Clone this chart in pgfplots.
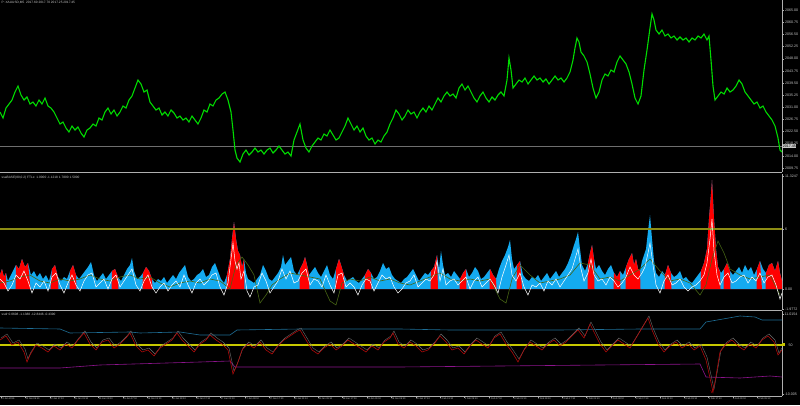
\documentclass[border=0pt]{standalone}
\usepackage{fontspec}
\setmainfont{Liberation Sans}
\usepackage{pgfplots}
\pgfplotsset{compat=1.18}
\definecolor{pricegreen}{RGB}{0,220,0}
\definecolor{histblue}{RGB}{20,170,240}
\definecolor{histred}{RGB}{255,0,0}
\definecolor{olivedk}{RGB}{70,100,20}
\definecolor{levelol}{RGB}{140,140,20}
\definecolor{lvlyellow}{RGB}{200,200,0}
\definecolor{steelbl}{RGB}{30,110,150}
\definecolor{magent}{RGB}{140,20,140}
\definecolor{darkred}{RGB}{175,10,10}
\definecolor{sepgray}{RGB}{175,175,175}
\definecolor{txtgray}{RGB}{200,200,200}
\definecolor{pricegray}{RGB}{110,110,110}
\pgfplotsset{
  mt4/.style={
    scale only axis, width=782pt, xmin=0, xmax=782,
    axis x line*=bottom, axis y line*=right,
    axis line style={-, sepgray, line width=0.8pt},
    tick style={sepgray, line width=0.4pt},
    tick align=outside, major tick length=2pt,
    yticklabel style={font=\fontsize{3.6}{4}\selectfont, text=txtgray, inner xsep=1pt},
    clip mode=individual,
  }
}
\begin{document}
\begin{tikzpicture}
\fill[black] (0,0) rectangle (800pt,405pt);
% ---------------- price panel ----------------
\begin{axis}[mt4, at={(0pt,232.5pt)}, anchor=south west, height=172.5pt,
  ymin=2008.18, ymax=2068.55, xtick=\empty,
  ytick={2009.75,2014.00,2018.25,2022.50,2026.75,2031.00,2035.25,2039.50,2043.75,2048.00,2052.25,2056.50,2060.75,2065.00},
  yticklabels={2009.75,2014.00,2018.25,2022.50,2026.75,2031.00,2035.25,2039.50,2043.75,2048.00,2052.25,2056.50,2060.75,2065.00}]
\addplot[draw=pricegray, line width=0.5pt] coordinates {(0,2017.45)(782,2017.45)};
\addplot[draw=pricegreen, line width=1.1pt] coordinates {
(0,2029.35)(3,2027.25)(6,2030.75)(9,2032.15)(12,2033.55)(15,2036.35)(18,2038.45)(21,2035.30)(24,2033.55)(27,2034.60)
(30,2032.15)(33,2032.85)(36,2031.45)(39,2033.55)(42,2032.15)(45,2034.25)(48,2031.45)(51,2030.75)(54,2029.35)(57,2027.25)
(60,2025.15)(63,2025.85)(66,2023.75)(69,2022.35)(72,2024.45)(75,2023.05)(78,2024.10)(81,2022.00)(84,2020.60)(87,2023.05)
(90,2023.75)(93,2025.15)(96,2024.45)(99,2027.25)(102,2026.55)(105,2029.35)(108,2030.75)(111,2028.65)(114,2030.05)(117,2027.95)
(120,2029.35)(123,2031.45)(126,2030.75)(129,2033.55)(132,2034.95)(135,2037.75)(138,2040.55)(141,2039.15)(144,2036.35)(147,2037.05)
(150,2032.85)(153,2031.45)(156,2030.05)(159,2030.75)(162,2028.30)(165,2029.35)(168,2027.95)(171,2030.05)(174,2029.00)(177,2027.25)
(180,2027.95)(183,2026.55)(186,2027.25)(189,2025.85)(192,2027.95)(195,2026.55)(198,2025.15)(201,2027.25)(204,2030.05)(207,2029.35)
(210,2032.15)(213,2031.45)(216,2033.55)(219,2034.25)(222,2035.65)(225,2036.35)(228,2033.55)(231,2029.35)(233,2023.05)(235,2016.05)
(237,2013.25)(240,2011.85)(243,2014.65)(246,2016.05)(249,2014.30)(252,2015.35)(255,2016.75)(258,2015.35)(261,2016.05)(264,2014.65)
(267,2016.05)(270,2016.75)(273,2015.00)(276,2016.05)(279,2017.45)(282,2016.05)(285,2014.65)(288,2015.35)(291,2013.95)(294,2019.55)
(297,2022.35)(300,2025.15)(303,2019.55)(306,2016.75)(309,2015.35)(312,2017.45)(315,2018.85)(318,2020.25)(321,2019.55)(324,2021.65)
(327,2020.95)(330,2023.05)(333,2021.30)(336,2019.55)(339,2020.25)(342,2022.35)(345,2024.45)(348,2027.25)(351,2025.15)(354,2023.05)
(357,2024.45)(360,2022.35)(363,2023.75)(366,2020.95)(369,2019.55)(372,2020.25)(375,2018.15)(378,2019.55)(381,2018.85)(384,2020.95)
(387,2022.35)(390,2025.15)(393,2027.25)(396,2030.05)(399,2028.65)(402,2026.55)(405,2027.95)(408,2030.05)(411,2028.65)(414,2029.35)
(417,2027.25)(420,2029.35)(423,2030.75)(426,2029.35)(429,2031.45)(432,2030.05)(435,2032.15)(438,2034.25)(441,2032.85)(444,2034.95)
(447,2036.35)(450,2034.95)(453,2035.65)(456,2034.25)(459,2037.75)(462,2039.15)(465,2037.05)(468,2038.45)(471,2036.35)(474,2034.25)
(477,2032.85)(480,2034.95)(483,2036.35)(486,2034.25)(489,2032.85)(492,2034.60)(495,2033.55)(498,2035.30)(501,2036.35)(504,2034.95)
(507,2040.55)(509,2048.25)(511,2044.05)(513,2037.75)(516,2039.15)(519,2040.55)(522,2039.85)(525,2041.25)(528,2039.15)(531,2040.55)
(534,2041.95)(537,2040.55)(540,2041.25)(543,2039.85)(546,2040.90)(549,2039.15)(552,2040.55)(555,2041.95)(558,2040.55)(561,2041.25)
(564,2039.85)(567,2041.25)(570,2043.35)(573,2047.55)(575,2051.75)(577,2055.25)(579,2053.85)(581,2050.35)(584,2048.95)(587,2046.85)
(590,2042.65)(593,2037.75)(596,2034.25)(599,2036.35)(602,2040.55)(605,2042.65)(608,2041.95)(611,2044.05)(614,2043.35)(617,2046.85)
(620,2048.95)(623,2047.55)(626,2046.15)(629,2043.35)(632,2039.15)(635,2034.25)(638,2032.15)(641,2034.95)(644,2044.05)(647,2051.05)
(650,2058.75)(652,2063.65)(654,2061.55)(656,2058.05)(659,2056.65)(662,2058.05)(665,2055.95)(668,2056.65)(671,2055.25)(674,2055.95)
(677,2054.55)(680,2055.60)(683,2054.55)(686,2055.25)(689,2053.85)(692,2055.25)(695,2054.55)(698,2055.95)(701,2055.25)(704,2056.65)
(707,2054.55)(709,2055.95)(711,2047.55)(713,2038.45)(715,2033.55)(718,2034.95)(721,2036.35)(724,2035.65)(727,2037.75)(730,2036.35)
(733,2037.05)(736,2038.45)(739,2040.55)(742,2039.15)(745,2036.35)(748,2034.95)(751,2033.55)(754,2032.15)(757,2032.85)(760,2030.75)
(763,2031.45)(766,2029.35)(769,2027.95)(772,2026.55)(775,2024.45)(778,2020.25)(780,2016.05)(782,2015.35)};
\node[anchor=north west, font=\fontsize{3.2}{3.6}\selectfont, text=txtgray, inner sep=0pt] at ([xshift=1.5pt,yshift=-1.5pt]rel axis cs:0,1) {P :XAUUSD,M5 \ 2017.60 2017.70 2017.25 2017.45};
\node[anchor=west, fill=txtgray, text=black, font=\fontsize{3.6}{4}\selectfont, inner sep=0.6pt] at (axis cs:782,2017.45) {2017.45};
\end{axis}
% ---------------- histogram panel ----------------
\begin{axis}[mt4, at={(0pt,95pt)}, anchor=south west, height=136pt,
  ymin=-2.1, ymax=11.5, xtick=\empty,
  ytick={-1.98,0,6,11.3}, yticklabels={-1.9772,0.00,6,11.3247}]
\addplot[fill=histblue, draw=none] coordinates {
(0,0)(0,1.4)(2,2.0)(4,1.2)(6,1.6)(8,0.8)(10,1.2)(13,1.8)(16,2.4)(19,2.0)(22,3.0)(25,2.2)(28,2.6)(31,1.4)(34,1.8)(37,1.2)(40,1.6)(43,1.0)(46,1.4)(49,0.8)
(52,2.0)(55,2.4)(58,1.2)(61,0.8)(64,1.2)(67,1.0)(70,1.8)(73,2.4)(76,1.4)(79,1.0)(82,1.4)(85,1.8)(88,2.2)(91,2.7)(94,1.4)(97,0.8)(100,1.2)(103,1.6)(106,1.0)(109,1.4)
(112,1.8)(115,2.0)(118,1.2)(121,0.8)(124,1.4)(127,2.0)(130,2.4)(132,3.1)(134,1.8)(137,1.0)(140,1.2)(143,1.6)(146,2.2)(149,1.8)(152,1.0)(155,0.6)(158,1.0)(161,0.8)(164,1.2)(167,0.6)
(170,1.0)(173,1.4)(176,1.0)(179,1.6)(182,2.0)(185,2.4)(188,1.2)(191,0.8)(194,1.0)(197,1.4)(200,1.6)(203,2.0)(206,1.2)(209,1.4)(212,2.2)(215,2.6)(218,1.8)(221,1.0)(224,0.6)(227,1.4)
(230,3.0)(232,5.0)(234,6.7)(236,5.0)(238,3.8)(240,3.4)(242,2.2)(244,3.0)(246,1.6)(248,1.0)(251,0.8)(254,0.6)(257,1.0)(260,1.4)(263,2.4)(266,1.8)(269,1.0)(272,0.8)(275,1.2)(278,1.6)
(281,2.2)(283,3.4)(285,2.4)(288,2.8)(291,3.2)(294,1.8)(297,1.4)(300,2.0)(303,2.6)(305,3.2)(307,2.4)(309,1.4)(312,1.8)(315,2.2)(318,1.6)(321,1.2)(324,1.8)(327,2.4)(330,1.4)(333,1.0)
(336,2.0)(339,3.0)(341,2.4)(344,1.4)(347,0.8)(350,1.0)(353,1.2)(356,0.8)(359,0.6)(362,1.0)(365,1.4)(368,2.0)(371,1.6)(374,1.0)(377,1.2)(380,1.8)(383,2.6)(386,2.0)(389,2.2)(392,1.4)
(395,1.0)(398,0.8)(401,0.6)(404,1.0)(407,1.2)(410,1.6)(413,2.0)(416,1.4)(419,0.8)(422,1.2)(425,1.6)(428,1.4)(431,1.8)(434,2.2)(437,3.4)(439,2.0)(441,3.8)(443,2.4)(445,1.4)(448,1.6)
(451,1.2)(454,1.8)(457,1.4)(460,1.0)(463,1.6)(466,2.0)(469,1.2)(472,1.6)(475,2.2)(478,1.8)(481,1.0)(484,1.2)(487,1.6)(490,2.0)(493,1.4)(496,1.0)(499,2.0)(502,2.8)(505,3.4)(508,4.2)
(510,4.9)(512,3.0)(514,2.0)(517,2.4)(520,2.8)(523,1.4)(526,1.0)(529,0.8)(532,1.2)(535,1.0)(538,1.4)(541,0.8)(544,1.2)(547,1.6)(550,1.0)(553,1.4)(556,1.8)(559,1.2)(562,1.6)(565,2.0)
(568,2.6)(571,3.4)(574,4.4)(576,5.0)(578,5.7)(580,4.0)(582,2.4)(585,1.8)(588,2.6)(590,3.6)(592,4.4)(594,3.0)(596,2.0)(599,2.4)(602,1.8)(605,1.4)(608,2.0)(611,2.4)(614,1.6)(617,1.2)
(620,1.8)(623,1.4)(626,2.2)(629,3.0)(632,3.6)(634,2.4)(636,3.0)(638,2.0)(640,1.8)(642,2.8)(644,3.4)(646,4.0)(648,5.8)(650,7.4)(652,5.0)(654,2.8)(656,1.6)(659,1.2)(662,1.8)(665,1.4)
(668,2.4)(671,1.6)(674,1.2)(677,1.4)(680,1.8)(683,1.0)(686,1.2)(689,0.8)(692,0.6)(695,1.0)(698,1.4)(701,1.8)(704,2.6)(707,4.0)(709,7.0)(711,9.5)(712,10.9)(714,7.0)(716,4.0)(718,2.2)
(721,1.6)(724,2.0)(727,2.6)(730,1.8)(733,1.4)(736,1.8)(739,2.2)(742,1.6)(745,2.4)(748,1.8)(751,2.2)(754,1.4)(757,2.0)(760,2.8)(763,2.0)(766,1.6)(769,2.4)(772,2.6)(775,1.8)(778,2.8)
(780,1.6)(782,0.8)(782,0)} \closedcycle;
\addplot[fill=histred, draw=none] coordinates {
(0,0)(0,1.4)(2,2.0)(4,1.2)(6,1.6)(6.5,0)
(15.5,0)(16,2.4)(19,2.0)(22,3.0)(25,2.2)(28,2.6)(30.5,0)
(50.5,0)(52,2.0)(55,2.4)(58,1.2)(58.5,0)
(69.5,0)(70,1.8)(73,2.4)(76,1.4)(76.5,0)
(111.5,0)(112,1.8)(115,2.0)(118,1.2)(118.5,0)
(142.5,0)(143,1.6)(146,2.2)(149,1.8)(152,1.0)(152.5,0)
(226.5,0)(227,1.4)(230,3.0)(232,5.0)(234,6.7)(236,5.0)(238,3.8)(240,3.4)(242,2.2)(244,3.0)(244.5,0)
(299.5,0)(300,2.0)(303,2.6)(305,3.2)(307,2.4)(309,1.4)(309.5,0)
(335.5,0)(336,2.0)(339,3.0)(341,2.4)(344,1.4)(344.5,0)
(364.5,0)(365,1.4)(368,2.0)(371,1.6)(371.5,0)
(430.5,0)(431,1.8)(434,2.2)(437,3.4)(438,0)
(459.5,0)(460,1.0)(463,1.6)(466,2.0)(466.5,0)
(489.5,0)(490,2.0)(493,1.4)(496,1.0)(496.5,0)
(516.5,0)(517,2.4)(520,2.8)(522,0)
(587.5,0)(588,2.6)(590,3.6)(592,4.4)(594,3.0)(594.5,0)
(613.5,0)(614,1.6)(617,1.2)(620,1.8)(620.5,0)
(625.5,0)(626,2.2)(629,3.0)(632,3.6)(634,2.4)(636,3.0)(638,2.0)(640,1.8)(640.5,0)
(664.5,0)(665,1.4)(668,2.4)(671,1.6)(671.5,0)
(700.5,0)(701,1.8)(704,2.6)(707,4.0)(709,7.0)(711,9.5)(712,10.9)(714,7.0)(716,4.0)(718,2.2)(720,1.7)(720.5,0)
(723.5,0)(724,2.0)(727,2.6)(730,1.8)(730.5,0)
(756.5,0)(757,2.0)(760,2.8)(762,0)
(765.5,0)(766,1.6)(769,2.4)(772,2.6)(775,1.8)(778,2.8)(780,1.6)(782,0.8)(782,0)} \closedcycle;
\addplot[draw=levelol, line width=1.1pt] coordinates {(0,6)(782,6)};
\addplot[draw=olivedk, line width=0.6pt] coordinates {
(0,0.6)(10,0.8)(20,1.2)(30,1.4)(40,0.8)(50,0.6)(60,1.0)(70,0.8)(80,1.0)(90,1.4)(100,1.0)(110,0.8)(120,1.2)(130,1.4)(140,1.0)(150,1.2)(160,0.6)(170,0.2)(180,0.6)(190,0.8)
(200,0.6)(210,1.0)(220,0.8)(230,0.0)(236,2.4)(242,3.2)(248,2.4)(254,1.4)(260,-1.4)(266,-0.6)(272,0.4)(280,1.0)(290,1.6)(300,1.4)(310,1.2)(320,1.0)(330,-1.2)(336,-1.6)(342,0.6)(350,1.0)
(360,0.8)(370,1.2)(380,0.8)(390,1.0)(400,0.6)(410,0.4)(420,0.8)(430,1.2)(440,1.6)(450,1.0)(460,0.8)(470,1.0)(480,0.8)(490,1.0)(500,-1.0)(506,-1.4)(512,1.0)(520,2.4)(530,1.4)(540,0.6)
(550,0.8)(560,1.0)(570,1.4)(580,2.6)(590,2.4)(600,1.0)(610,1.2)(620,0.8)(630,1.4)(640,2.0)(650,3.0)(660,1.8)(670,0.8)(680,1.0)(690,0.6)(700,-0.6)(706,0.4)(712,3.0)(718,4.8)(724,3.6)
(730,2.0)(740,1.4)(750,1.0)(760,1.2)(770,1.4)(780,-0.6)};
\addplot[draw=white, line width=0.5pt] coordinates {
(0,1.0)(4,0.6)(8,-0.2)(12,0.4)(16,1.4)(20,1.0)(24,1.8)(28,0.8)(32,-0.4)(36,0.6)(40,0.2)(44,0.8)(48,-0.2)(52,1.2)(56,1.6)(60,0.4)(64,-0.4)(68,0.6)(72,1.4)(76,0.4)
(80,-0.2)(84,0.8)(88,1.4)(92,1.6)(96,0.2)(100,0.6)(104,1.0)(108,0.0)(112,1.0)(116,1.4)(120,0.2)(124,0.8)(128,1.4)(132,2.0)(136,0.4)(140,-0.2)(144,0.8)(148,1.4)(152,0.2)(156,-0.4)
(160,0.2)(164,0.6)(168,-0.2)(172,0.4)(176,0.8)(180,0.2)(184,1.4)(188,0.4)(192,-0.4)(196,0.6)(200,1.0)(204,0.4)(208,0.8)(212,1.4)(216,1.6)(220,0.2)(224,-0.6)(228,0.6)(231,3.0)(233,4.6)
(235,2.8)(237,2.0)(239,2.6)(241,1.0)(244,1.8)(247,-0.2)(250,-0.8)(254,0.2)(258,0.4)(262,1.6)(266,0.8)(270,-0.4)(274,0.2)(278,0.8)(282,2.0)(286,1.0)(290,1.8)(294,0.6)(298,0.8)(302,1.6)
(306,2.0)(310,0.4)(314,1.0)(318,0.8)(322,0.2)(326,1.4)(330,0.4)(334,-0.4)(338,1.4)(342,1.6)(346,0.2)(350,0.6)(354,0.2)(358,-0.6)(362,0.4)(366,1.0)(370,0.8)(374,-0.2)(378,0.6)(382,1.4)
(386,1.0)(390,1.2)(394,0.2)(398,-0.4)(402,0.0)(406,0.6)(410,0.8)(414,1.4)(418,0.2)(422,0.6)(426,1.0)(430,0.8)(434,1.4)(437,2.8)(440,0.8)(443,2.0)(446,0.4)(450,0.8)(454,1.0)(458,0.4)
(462,0.8)(466,1.2)(470,0.0)(474,0.8)(478,1.2)(482,0.2)(486,0.6)(490,1.0)(494,0.4)(498,-0.4)(502,1.2)(506,2.4)(509,3.4)(512,1.4)(516,0.8)(520,1.6)(524,0.2)(528,-0.6)(532,0.4)(536,0.2)
(540,0.6)(544,-0.2)(548,0.8)(552,0.4)(556,1.0)(560,0.2)(564,0.8)(568,1.4)(572,2.0)(575,3.0)(578,4.0)(581,2.0)(584,0.8)(588,1.6)(591,3.0)(594,1.4)(598,0.8)(602,1.0)(606,0.4)(610,1.2)
(614,0.8)(618,0.2)(622,0.6)(626,1.2)(630,2.2)(634,1.4)(638,1.0)(642,1.6)(645,2.2)(648,3.6)(650,4.6)(653,2.4)(656,0.4)(660,-0.4)(664,0.8)(668,1.4)(672,0.4)(676,0.6)(680,1.0)(684,0.2)
(688,-0.2)(692,0.2)(696,0.4)(700,0.8)(704,1.4)(707,2.6)(710,5.0)(712,7.0)(714,3.8)(717,1.4)(720,0.4)(724,1.2)(728,1.6)(732,0.6)(736,0.8)(740,1.2)(744,1.4)(748,0.6)(752,1.2)(756,0.8)
(760,1.6)(764,0.6)(768,1.2)(772,1.4)(776,0.4)(780,-1.0)(782,-0.4)};
\node[anchor=north west, font=\fontsize{3.2}{3.6}\selectfont, text=txtgray, inner sep=0pt] at ([xshift=1.5pt,yshift=-1.5pt]rel axis cs:0,1) {ssaBASE(80,0.2) FTLx: 1.0000 -1.1218 1.7800 1.5000};
\end{axis}
% ---------------- oscillator panel ----------------
\begin{axis}[mt4, at={(0pt,9pt)}, anchor=south west, height=85pt,
  ymin=-1, ymax=84,
  ytick={1,50,81}, yticklabels={-10.005,\hspace{4pt}50,11.0154},
  xtick={1,25.4,49.8,74.2,98.6,123,147.4,171.8,196.2,220.6,245,269.4,293.8,318.2,342.6,367,391.4,415.8,440.2,464.6,489,513.4,537.8,562.2,586.6,611,635.4,659.8,684.2,708.6,733,757.4},
  xticklabels={22 Jan 2016,22 Jan 09:10,22 Jan 17:10,25 Jan 01:10,25 Jan 09:10,25 Jan 17:10,26 Jan 01:10,26 Jan 09:10,26 Jan 17:10,27 Jan 01:10,27 Jan 09:10,27 Jan 17:10,28 Jan 01:10,28 Jan 09:10,28 Jan 17:10,29 Jan 01:10,29 Jan 09:10,29 Jan 17:10,1 Feb 01:10,1 Feb 09:10,1 Feb 17:10,2 Feb 01:10,2 Feb 09:10,2 Feb 17:10,3 Feb 01:10,3 Feb 09:10,3 Feb 17:10,4 Feb 01:10,4 Feb 09:10,4 Feb 17:10,5 Feb 01:10,5 Feb 09:10},
  xticklabel style={font=\fontsize{2.4}{3}\selectfont, text=txtgray, anchor=north west, inner sep=0.5pt, xshift=-0.5pt},
  major tick length=1.5pt]
\addplot[draw=steelbl, line width=0.6pt] coordinates {
(0,67)(60,66)(70,62)(130,63)(140,62)(180,63)(200,60)(230,60)(237,65)(300,66)(400,66)(450,65)(500,65)(560,65)(640,66)(700,66)(706,73)(740,79)(755,78)(762,75)(782,75)};
\addplot[draw=magent, line width=0.6pt] coordinates {
(0,27)(60,27)(100,30)(200,33)(230,34)(235,28)(400,28)(500,29)(600,30)(700,31)(706,18)(740,17)(770,19)(782,18)};
\addplot[draw=lvlyellow, line width=1.1pt] coordinates {(0,50)(782,50)};
\addplot[draw=pricegray, line width=0.4pt] coordinates {
(1,57)(7,61)(13,52)(19,55)(25,46)(28,36)(31,43)(37,52)(43,49)(49,45)(55,51)(61,47)(67,53)(73,49)(79,57)(85,64)(91,53)(97,47)(103,55)(109,57)
(115,49)(121,53)(127,59)(131,64)(137,51)(143,45)(149,47)(155,41)(161,49)(167,53)(173,57)(178,64)(183,57)(189,51)(195,45)(201,53)(207,57)(211,62)(217,57)(223,53)
(229,47)(234,24)(238,33)(243,47)(249,53)(255,49)(261,55)(267,47)(273,43)(279,51)(285,57)(291,61)(297,65)(301,67)(307,57)(313,47)(319,43)(325,49)(331,53)(337,47)
(343,51)(349,57)(355,53)(361,49)(367,45)(373,51)(379,47)(385,55)(391,59)(394,64)(399,53)(405,49)(411,55)(417,51)(423,45)(429,47)(435,53)(441,61)(447,55)(453,47)
(459,49)(465,43)(471,51)(477,57)(483,53)(489,49)(495,59)(501,63)(507,53)(513,45)(519,36)(525,47)(531,55)(537,51)(543,47)(549,53)(555,57)(561,51)(567,55)(573,61)
(579,67)(585,59)(591,73)(595,65)(601,53)(607,45)(613,51)(619,57)(625,53)(631,49)(637,59)(643,69)(649,79)(653,67)(659,53)(665,45)(671,51)(677,55)(683,49)(689,53)
(695,47)(701,51)(707,38)(711,20)(714,6)(717,22)(721,45)(727,53)(733,57)(739,51)(745,47)(751,53)(757,49)(763,57)(769,61)(775,55)(779,42)(782,47)};
\addplot[draw=darkred, line width=0.6pt] coordinates {
(0,55)(6,59)(12,50)(18,53)(24,43)(27,33)(30,40)(36,50)(42,47)(48,43)(54,49)(60,45)(66,51)(72,47)(78,55)(84,62)(90,51)(96,45)(102,53)(108,55)
(114,47)(120,51)(126,57)(130,62)(136,49)(142,43)(148,45)(154,39)(160,47)(166,51)(172,55)(177,62)(182,55)(188,49)(194,43)(200,51)(206,55)(210,60)(216,55)(222,51)
(228,45)(233,21)(237,30)(242,45)(248,51)(254,47)(260,53)(266,45)(272,41)(278,49)(284,55)(290,59)(296,63)(300,65)(306,55)(312,45)(318,41)(324,47)(330,51)(336,45)
(342,49)(348,55)(354,51)(360,47)(366,43)(372,49)(378,45)(384,53)(390,57)(393,62)(398,51)(404,47)(410,53)(416,49)(422,43)(428,45)(434,51)(440,59)(446,53)(452,45)
(458,47)(464,41)(470,49)(476,55)(482,51)(488,47)(494,57)(500,61)(506,51)(512,43)(518,33)(524,45)(530,53)(536,49)(542,45)(548,51)(554,55)(560,49)(566,53)(572,59)
(578,65)(584,57)(590,71)(594,63)(600,51)(606,43)(612,49)(618,55)(624,51)(630,47)(636,57)(642,67)(648,77)(652,65)(658,51)(664,43)(670,49)(676,53)(682,47)(688,51)
(694,45)(700,49)(706,35)(710,17)(713,3)(716,19)(720,43)(726,51)(732,55)(738,49)(744,45)(750,51)(756,47)(762,55)(768,59)(774,53)(778,40)(782,45)};
\node[anchor=west, fill=lvlyellow, inner sep=0pt, minimum size=3pt] at (axis cs:782,50) {};
\node[text=red, font=\fontsize{4}{4}\selectfont, inner sep=0pt] at (axis cs:712,3) {V};
\node[anchor=north west, font=\fontsize{3.2}{3.6}\selectfont, text=txtgray, inner sep=0pt] at ([xshift=1.5pt,yshift=-1.5pt]rel axis cs:0,1) {ssdr 0.0608 -1.1388 -12.8446 -0.4390};
\end{axis}
\pgfresetboundingbox
\useasboundingbox (0,0) rectangle (800pt,405pt);
\end{tikzpicture}
\end{document}
